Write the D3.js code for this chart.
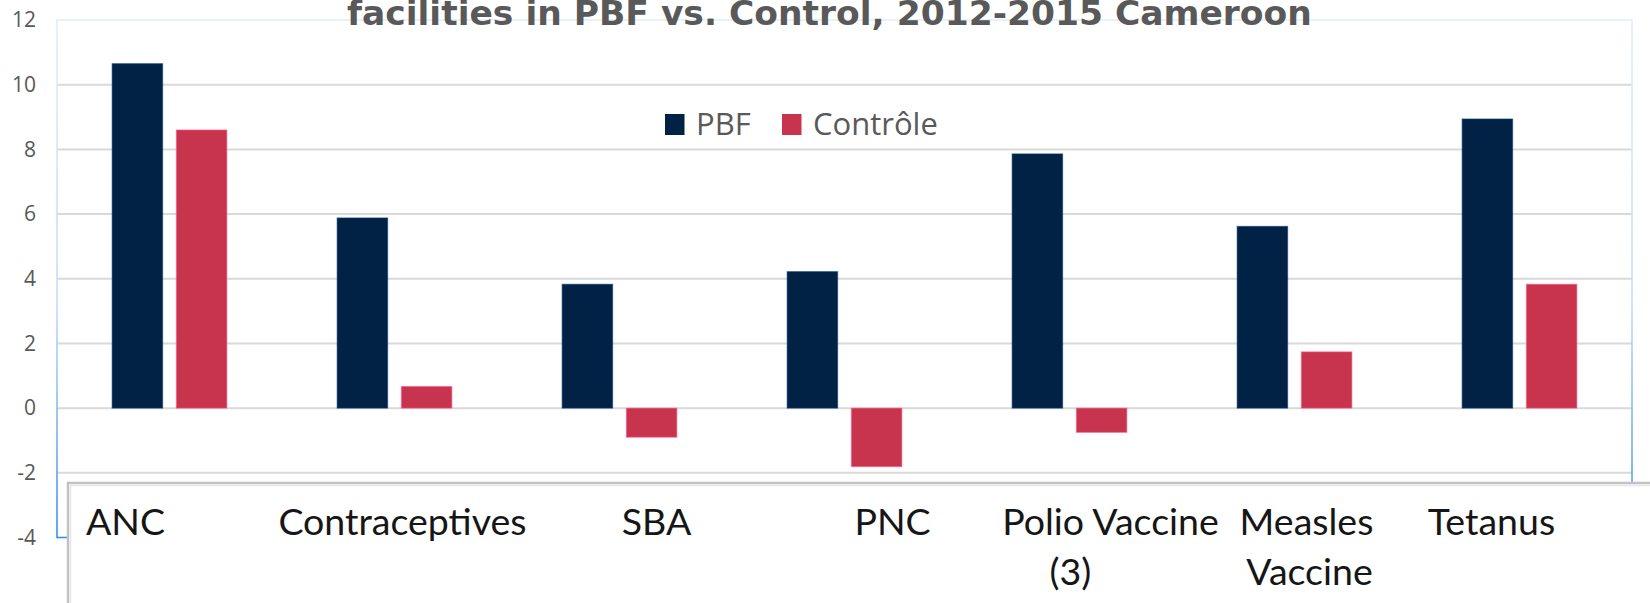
<!DOCTYPE html>
<html>
<head>
<meta charset="utf-8">
<script src="https://cdnjs.cloudflare.com/ajax/libs/d3/7.8.5/d3.min.js"></script>
<style>
  body { margin: 0; background: #fff; }
  svg { display: block; }
</style>
</head>
<body>
<div id="chart"></div>
<script>

var categories = ["ANC", "Contraceptives", "SBA", "PNC", "Polio Vaccine (3)", "Measles Vaccine", "Tetanus"];
var tickLines = [["ANC"], ["Contraceptives"], ["SBA"], ["PNC"], ["Polio Vaccine", "(3)"], ["Measles", "Vaccine"], ["Tetanus"]];
var series = ["PBF", "Contrôle"];
var pbf = [10.65, 5.88, 3.83, 4.22, 7.86, 5.62, 8.94];
var controle = [8.6, 0.67, -0.9, -1.81, -0.75, 1.74, 3.83];
var yTicks = [-4, -2, 0, 2, 4, 6, 8, 10, 12];
var title = "facilities in PBF vs. Control, 2012-2015 Cameroon";

// the pasted label strip does not line up with the bands, nudge each line
var labelNudge = [[-44], [8], [37], [48], [41, 1], [12, 15], [-28]];

var width = 1650,
    height = 603,
    plot = {left: 57, right: 1632, top: 20, bottom: 537.5};

var colors = {"PBF": "#012245", "Contrôle": "#c8334e"};

var svg = d3.select("#chart").append("svg")
    .attr("width", width)
    .attr("height", height);

svg.append("rect").attr("width", width).attr("height", height).attr("fill", "#fff");

var x0 = d3.scaleBand()
    .domain(categories)
    .range([plot.left, plot.right])
    .paddingInner(0.49)
    .paddingOuter(0.245);

var x1 = d3.scaleBand()
    .domain(series)
    .range([0, x0.bandwidth()])
    .paddingInner(0.213);

var y = d3.scaleLinear()
    .domain([-4, 12])
    .range([plot.bottom, plot.top]);

var rows = categories.map(function(c, i) {
    return {cat: c, values: [{key: "PBF", v: pbf[i]}, {key: "Contrôle", v: controle[i]}]};
});

// gridlines
svg.append("g")
    .selectAll("line")
    .data(yTicks.filter(function(d) { return d > -4 && d < 12; }))
    .enter().append("line")
    .attr("x1", plot.left)
    .attr("x2", plot.right)
    .attr("y1", function(d) { return y(d); })
    .attr("y2", function(d) { return y(d); })
    .attr("stroke", "#d9d9d9")
    .attr("stroke-width", 2);

// y axis labels
var yAxis = svg.append("g")
    .attr("transform", "translate(" + plot.left + ",0)")
    .call(d3.axisLeft(y).tickValues(yTicks).tickSize(0).tickPadding(21)
        .tickFormat(function(d) { return String(d); }));
yAxis.select(".domain").remove();
yAxis.selectAll("text")
    .attr("font-family", "'Open Sans', sans-serif")
    .attr("font-size", 21)
    .attr("fill", "#595959");

// bars
var group = svg.append("g")
    .selectAll("g")
    .data(rows)
    .enter().append("g")
    .attr("transform", function(d) { return "translate(" + x0(d.cat) + ",0)"; });

group.selectAll("rect")
    .data(function(d) { return d.values; })
    .enter().append("rect")
    .attr("x", function(d) { return x1(d.key); })
    .attr("width", x1.bandwidth())
    .attr("y", function(d) { return y(Math.max(0, d.v)); })
    .attr("height", function(d) { return Math.abs(y(d.v) - y(0)); })
    .attr("fill", function(d) { return colors[d.key]; })
    .attr("stroke", function(d) { return d3.color(colors[d.key]).brighter(1.6); })
    .attr("stroke-opacity", 0.6)
    .attr("stroke-width", 1);

// plot area border, faint at top and blue at bottom
var grad = svg.append("defs").append("linearGradient")
    .attr("id", "borderGrad")
    .attr("gradientUnits", "userSpaceOnUse")
    .attr("x1", 0).attr("x2", 0)
    .attr("y1", plot.top).attr("y2", plot.bottom);
grad.append("stop").attr("offset", 0).attr("stop-color", "#e2edfa");
grad.append("stop").attr("offset", 0.55).attr("stop-color", "#c3dcf8");
grad.append("stop").attr("offset", 1).attr("stop-color", "#3a8fec");

svg.append("rect")
    .attr("x", plot.left)
    .attr("y", plot.top)
    .attr("width", plot.right - plot.left)
    .attr("height", plot.bottom - plot.top)
    .attr("fill", "none")
    .attr("stroke", "url(#borderGrad)")
    .attr("stroke-width", 1.6);

// legend
var legend = svg.append("g")
    .attr("font-family", "'Open Sans', sans-serif")
    .attr("font-size", 31)
    .attr("fill", "#595959");
var legendX = [665, 782];
series.forEach(function(s, i) {
    legend.append("rect")
        .attr("x", legendX[i])
        .attr("y", 114)
        .attr("width", 19.5)
        .attr("height", 21)
        .attr("fill", colors[s]);
    legend.append("text")
        .attr("x", legendX[i] + 31)
        .attr("y", 135)
        .text(s);
});

// title (second line only, top is cut off like the original)
var t = svg.append("text")
    .attr("x", 347)
    .attr("y", 25)
    .attr("font-family", "'DejaVu Sans', Verdana, sans-serif")
    .attr("font-weight", "bold")
    .attr("font-size", 31)
    .attr("fill", "#595959")
    .text(title);
var tw = t.node().getComputedTextLength();
t.attr("font-size", 31 * 965 / tw);

// pasted label strip over the bottom of the chart
var strip = svg.append("g");
strip.append("rect")
    .attr("x", 68)
    .attr("y", 483)
    .attr("width", width)
    .attr("height", 200)
    .attr("fill", "#fff")
    .attr("stroke", "#c2c2c2")
    .attr("stroke-width", 2.5);
strip.append("path")
    .attr("d", "M70.5," + height + "V485.5H" + width)
    .attr("fill", "none")
    .attr("stroke", "#e6e6e6")
    .attr("stroke-width", 1.5);

var labels = strip.selectAll("text.lab")
    .data(tickLines)
    .enter().append("text")
    .attr("class", "lab")
    .attr("font-family", "Lato, sans-serif")
    .attr("font-size", 37.5)
    .attr("fill", "#161616")
    .attr("text-anchor", "middle");

labels.selectAll("tspan")
    .data(function(d, i) {
        return d.map(function(line, j) { return {line: line, cat: categories[i], dx: labelNudge[i][j], j: j}; });
    })
    .enter().append("tspan")
    .attr("x", function(d) { return x0(d.cat) + x0.bandwidth() / 2 + d.dx; })
    .attr("y", function(d) { return 535 + d.j * 50; })
    .text(function(d) { return d.line; });

</script>
</body>
</html>
